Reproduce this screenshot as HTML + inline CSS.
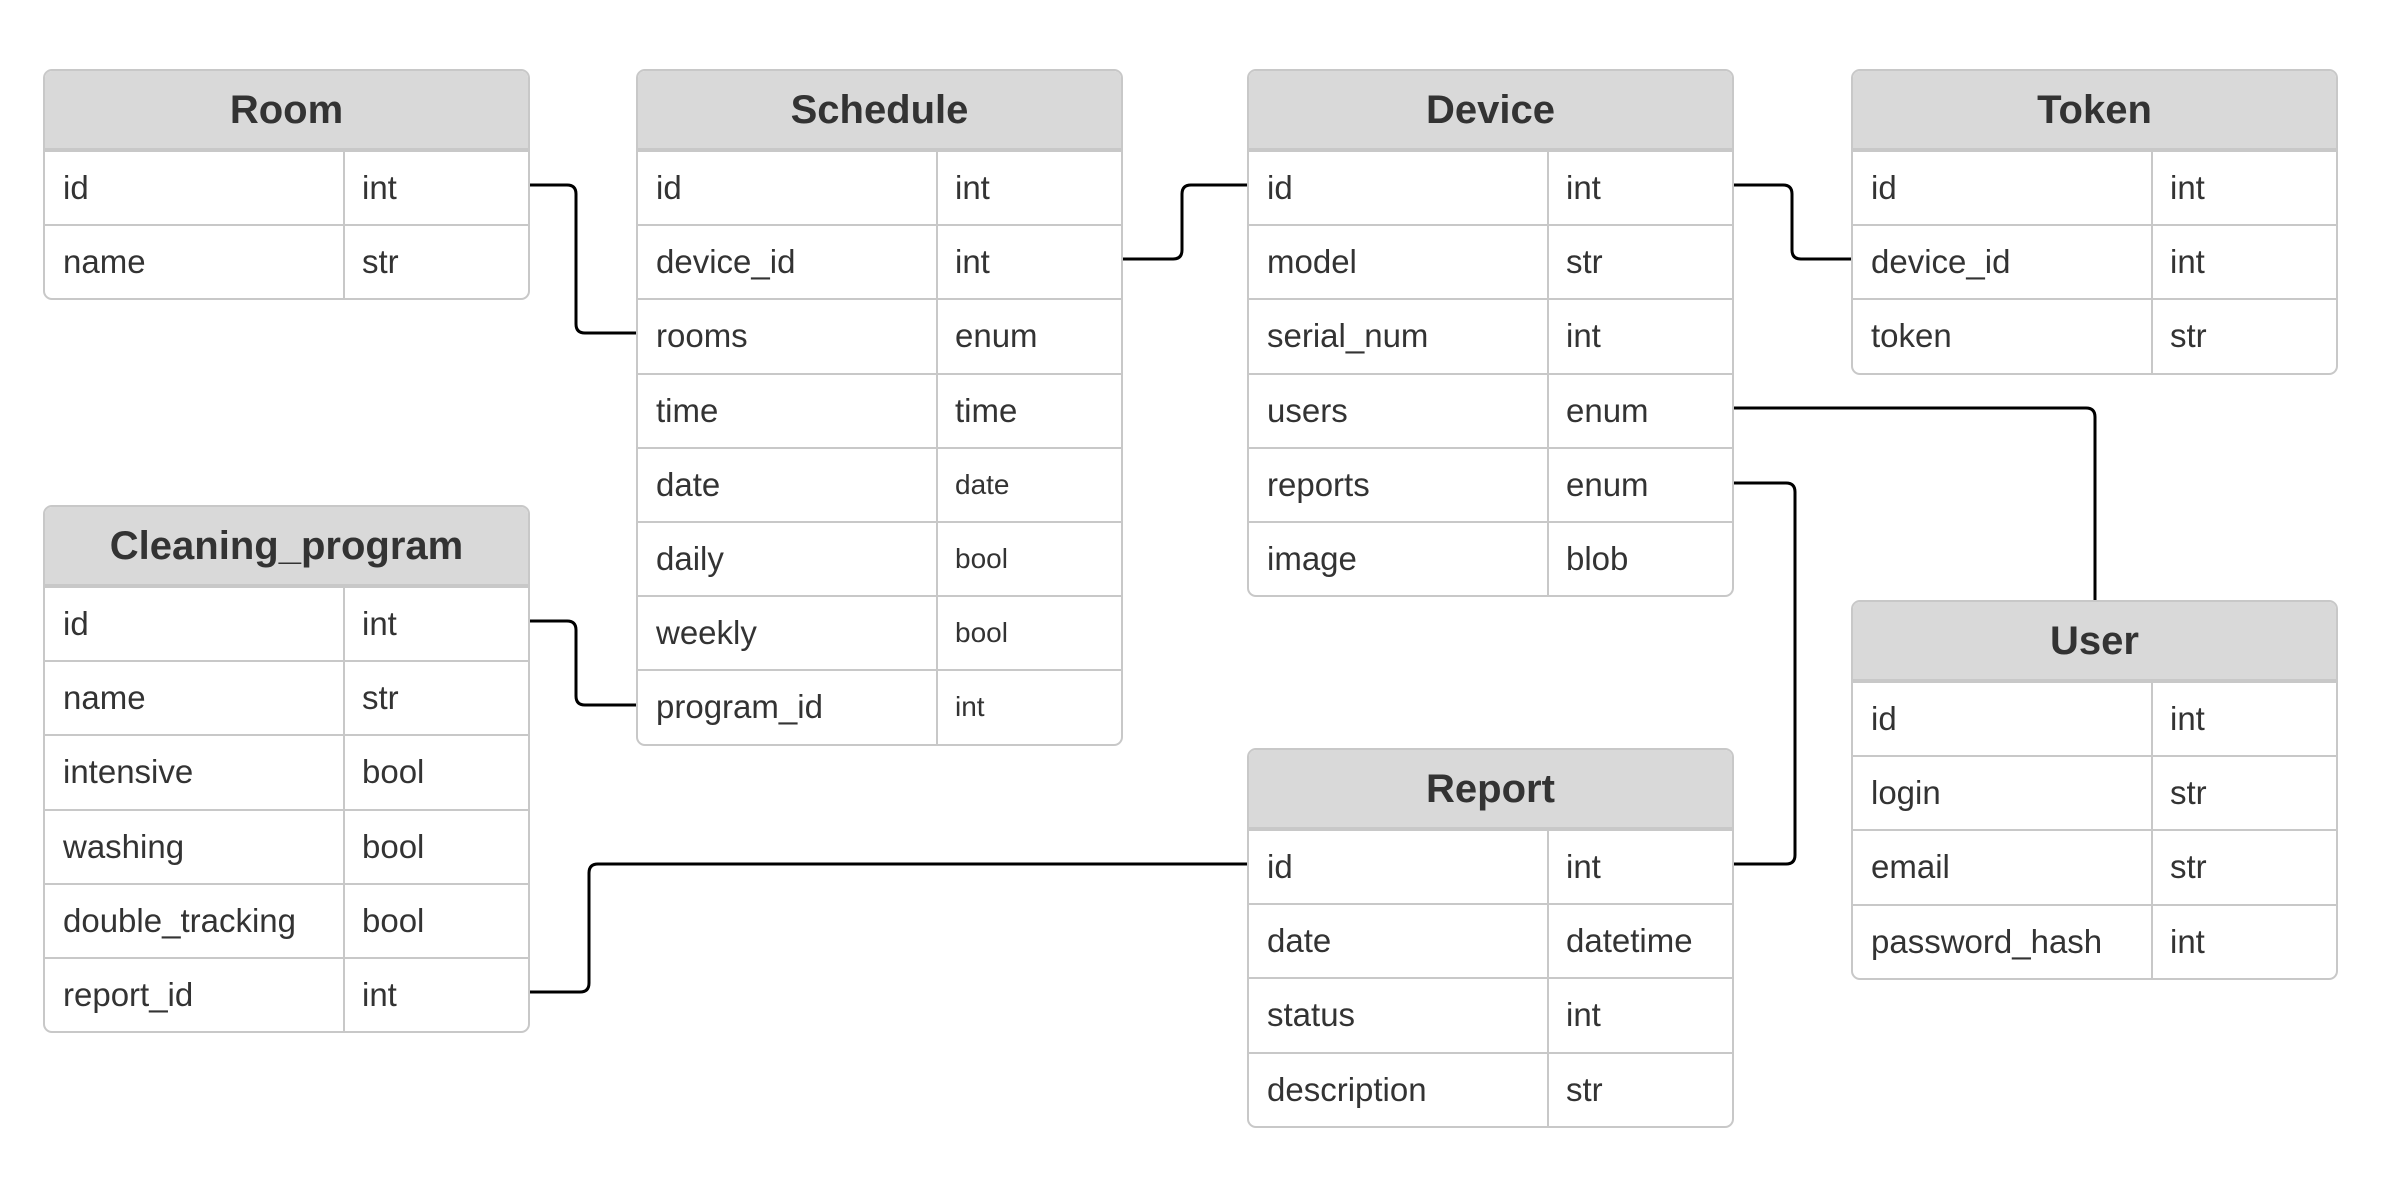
<!DOCTYPE html>
<html><head><meta charset="utf-8"><style>
html,body{margin:0;padding:0;background:#fff;}
body{width:2391px;height:1194px;position:relative;overflow:hidden;font-family:"Liberation Sans",Arial,sans-serif;color:#333;}
.t{position:absolute;width:483px;border:2px solid #c8c8c8;border-radius:9px;overflow:hidden;background:#fff;box-sizing:content-box;}
.h{height:77px;background:#d9d9d9;border-bottom:2px solid #c8c8c8;text-align:center;font-weight:bold;font-size:40px;line-height:79px;}
.r{height:72.2px;border-top:2px solid #c8c8c8;display:flex;font-size:33px;line-height:72px;}
.r:first-of-type{border-top:none;height:74.2px;}
.n{width:280px;padding-left:18px;border-right:2px solid #c8c8c8;flex:none;}
.y{padding-left:17px;}
.s{font-size:28px;}
svg{position:absolute;left:0;top:0;}
</style></head><body>
<svg width="2391" height="1194" viewBox="0 0 2391 1194" fill="none" stroke="#000" stroke-width="3" stroke-linejoin="round">
<path d="M530 185 H567 Q576 185 576 194 V324 Q576 333 585 333 H636"/>
<path d="M1123 259 H1173 Q1182 259 1182 250 V194 Q1182 185 1191 185 H1247"/>
<path d="M1734 185 H1783 Q1792 185 1792 194 V250 Q1792 259 1801 259 H1851"/>
<path d="M1734 408 H2086 Q2095 408 2095 417 V600"/>
<path d="M1734 483 H1786 Q1795 483 1795 492 V855 Q1795 864 1786 864 H1734"/>
<path d="M530 621 H567 Q576 621 576 630 V696 Q576 705 585 705 H636"/>
<path d="M530 992 H580 Q589 992 589 983 V873 Q589 864 598 864 H1247"/>
</svg>

<div class="t" style="left:43px;top:69px;"><div class="h">Room</div>
<div class="r"><div class="n">id</div><div class="y">int</div></div>
<div class="r"><div class="n">name</div><div class="y">str</div></div>
</div>

<div class="t" style="left:636px;top:69px;"><div class="h">Schedule</div>
<div class="r"><div class="n">id</div><div class="y">int</div></div>
<div class="r"><div class="n">device_id</div><div class="y">int</div></div>
<div class="r"><div class="n">rooms</div><div class="y">enum</div></div>
<div class="r"><div class="n">time</div><div class="y">time</div></div>
<div class="r"><div class="n">date</div><div class="y s">date</div></div>
<div class="r"><div class="n">daily</div><div class="y s">bool</div></div>
<div class="r"><div class="n">weekly</div><div class="y s">bool</div></div>
<div class="r"><div class="n">program_id</div><div class="y s">int</div></div>
</div>

<div class="t" style="left:1247px;top:69px;"><div class="h">Device</div>
<div class="r"><div class="n">id</div><div class="y">int</div></div>
<div class="r"><div class="n">model</div><div class="y">str</div></div>
<div class="r"><div class="n">serial_num</div><div class="y">int</div></div>
<div class="r"><div class="n">users</div><div class="y">enum</div></div>
<div class="r"><div class="n">reports</div><div class="y">enum</div></div>
<div class="r"><div class="n">image</div><div class="y">blob</div></div>
</div>

<div class="t" style="left:1851px;top:69px;"><div class="h">Token</div>
<div class="r"><div class="n">id</div><div class="y">int</div></div>
<div class="r"><div class="n">device_id</div><div class="y">int</div></div>
<div class="r"><div class="n">token</div><div class="y">str</div></div>
</div>

<div class="t" style="left:43px;top:505px;"><div class="h">Cleaning_program</div>
<div class="r"><div class="n">id</div><div class="y">int</div></div>
<div class="r"><div class="n">name</div><div class="y">str</div></div>
<div class="r"><div class="n">intensive</div><div class="y">bool</div></div>
<div class="r"><div class="n">washing</div><div class="y">bool</div></div>
<div class="r"><div class="n">double_tracking</div><div class="y">bool</div></div>
<div class="r"><div class="n">report_id</div><div class="y">int</div></div>
</div>

<div class="t" style="left:1247px;top:748px;"><div class="h">Report</div>
<div class="r"><div class="n">id</div><div class="y">int</div></div>
<div class="r"><div class="n">date</div><div class="y">datetime</div></div>
<div class="r"><div class="n">status</div><div class="y">int</div></div>
<div class="r"><div class="n">description</div><div class="y">str</div></div>
</div>

<div class="t" style="left:1851px;top:600px;"><div class="h">User</div>
<div class="r"><div class="n">id</div><div class="y">int</div></div>
<div class="r"><div class="n">login</div><div class="y">str</div></div>
<div class="r"><div class="n">email</div><div class="y">str</div></div>
<div class="r"><div class="n">password_hash</div><div class="y">int</div></div>
</div>
</body></html>
